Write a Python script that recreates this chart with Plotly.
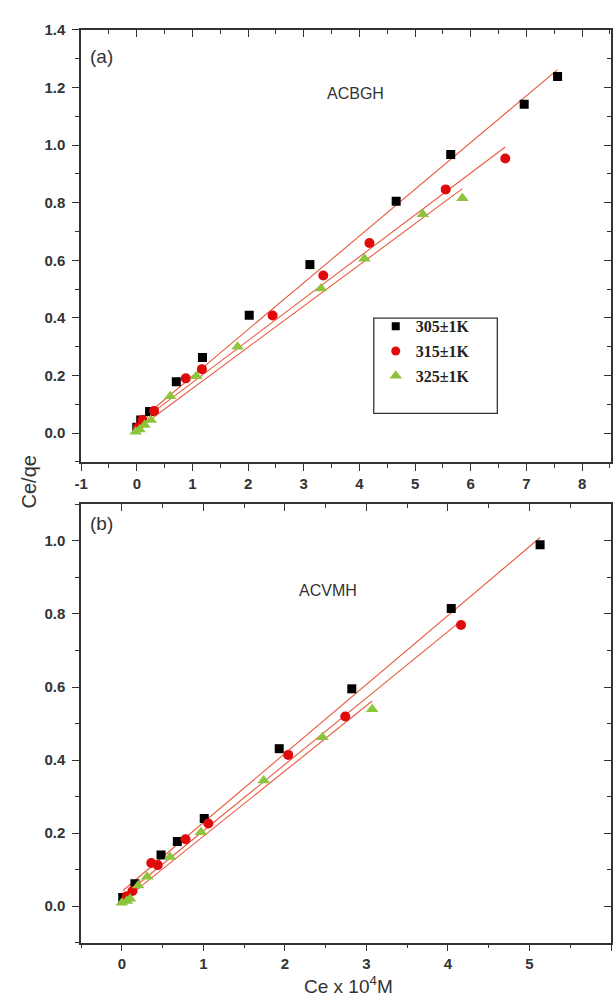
import numpy as np
import plotly.graph_objects as go

# ---------------- data ----------------
series_names = ["305\u00b11K", "315\u00b11K", "325\u00b11K"]

# panel (a): ACBGH
a_x_305 = [0.00, 0.07, 0.23, 0.71, 1.18, 2.02, 3.11, 4.66, 5.64, 6.96, 7.56]
a_y_305 = [0.020, 0.045, 0.075, 0.178, 0.262, 0.409, 0.585, 0.805, 0.967, 1.142, 1.238]
a_x_315 = [0.02, 0.10, 0.31, 0.88, 1.17, 2.44, 3.35, 4.18, 5.55, 6.62]
a_y_315 = [0.020, 0.045, 0.077, 0.190, 0.222, 0.408, 0.547, 0.660, 0.846, 0.953]
a_x_325 = [-0.02, 0.05, 0.14, 0.25, 0.60, 1.07, 1.81, 3.31, 4.09, 5.14, 5.85]
a_y_325 = [0.005, 0.012, 0.028, 0.045, 0.128, 0.197, 0.300, 0.502, 0.605, 0.760, 0.815]
a_fit_intercept = [0.035, 0.030, 0.012]
a_fit_slope = [0.1623, 0.1455, 0.1430]
a_xticks = [-1, 0, 1, 2, 3, 4, 5, 6, 7, 8]
a_xtick_labels = ["-1", "0", "1", "2", "3", "4", "5", "6", "7", "8"]

# panel (b): ACVMH
b_x_305 = [0.01, 0.16, 0.48, 0.68, 1.01, 1.93, 2.82, 4.04, 5.13]
b_y_305 = [0.023, 0.061, 0.140, 0.177, 0.240, 0.431, 0.595, 0.815, 0.990]
b_x_315 = [0.06, 0.13, 0.36, 0.44, 0.78, 1.06, 2.04, 2.74, 4.16]
b_y_315 = [0.027, 0.041, 0.118, 0.112, 0.183, 0.226, 0.414, 0.519, 0.770]
b_x_325 = [0.00, 0.06, 0.10, 0.20, 0.31, 0.59, 0.97, 1.74, 2.46, 3.07]
b_y_325 = [0.009, 0.014, 0.020, 0.056, 0.080, 0.134, 0.202, 0.344, 0.462, 0.539]
b_fit_intercept = [0.040, 0.024, 0.012]
b_fit_slope = [0.189, 0.182, 0.179]

# ---------------- styling ----------------
W, H = 613, 998
marker_styles = [
    dict(symbol="square", color="#000000", size=9),
    dict(symbol="circle", color="#e10a0a", size=10),
    dict(symbol="triangle-up", color="#8cc43c", size=11),
]
legend_marker_sizes = [8, 9, 11]
fit_color = "#e85a3c"
axis_color = "#333333"
tick_font = dict(family="Liberation Sans, Arial, sans-serif", size=15, color="#333333",
                 weight="bold")

fig = go.Figure()


def add_panel(xs, ys, intercepts, slopes, xa, ya):
    for i, (x, y) in enumerate(zip(xs, ys)):
        x = np.asarray(x)
        xl = np.array([x.min(), x.max()])
        fig.add_trace(go.Scatter(
            x=xl, y=intercepts[i] + slopes[i] * xl, mode="lines",
            line=dict(color=fit_color, width=1.1),
            xaxis=xa, yaxis=ya, showlegend=False, hoverinfo="skip"))
    for i, (x, y) in enumerate(zip(xs, ys)):
        fig.add_trace(go.Scatter(
            x=x, y=y, mode="markers", name=series_names[i],
            marker=dict(symbol=marker_styles[i]["symbol"],
                        color=marker_styles[i]["color"],
                        size=marker_styles[i]["size"], line=dict(width=0)),
            xaxis=xa, yaxis=ya, showlegend=False))


add_panel([a_x_305, a_x_315, a_x_325], [a_y_305, a_y_315, a_y_325],
          a_fit_intercept, a_fit_slope, "x", "y")
add_panel([b_x_305, b_x_315, b_x_325], [b_y_305, b_y_315, b_y_325],
          b_fit_intercept, b_fit_slope, "x2", "y2")

# legend-only entries (smaller symbols than the plotted points)
for i in range(3):
    fig.add_trace(go.Scatter(
        x=[None], y=[None], mode="markers", name=series_names[i],
        marker=dict(symbol=marker_styles[i]["symbol"], color=marker_styles[i]["color"],
                    size=legend_marker_sizes[i]),
        legendgroup=f"g{i}", xaxis="x", yaxis="y", showlegend=True))

# empty traces so the mirrored tick axes (top / right) get drawn
fig.add_trace(go.Scatter(x=[None], y=[None], xaxis="x3", yaxis="y3", showlegend=False))
fig.add_trace(go.Scatter(x=[None], y=[None], xaxis="x4", yaxis="y4", showlegend=False))

x_dom = [75 / W, 611 / W]
ya_dom = [1 - 457 / H, 1 - 21 / H]
yb_dom = [1 - 942 / H, 1 - 500 / H]
xa_range = [-1.0, 8.52]
xb_range = [-0.5, 6.0]
ya_range = [-0.1, 1.4]
yb_range = [-0.1, 1.1]


def base_axis(rng, dtick, minor_dtick, ticks, labels, fmt=None):
    d = dict(range=rng, dtick=dtick, tick0=0, ticks=ticks, ticklen=7, tickwidth=1.3,
             tickcolor=axis_color, showline=True, linewidth=1.5, linecolor=axis_color,
             showgrid=False, zeroline=False, showticklabels=labels, tickfont=tick_font,
             minor=dict(dtick=minor_dtick, ticks=ticks, ticklen=4, tickwidth=1.2,
                        tickcolor=axis_color, showgrid=False),
             fixedrange=True)
    if fmt:
        d["tickformat"] = fmt
    return d


xa_axis = base_axis(xa_range, 1, 0.5, "outside", True)
xa_axis.update(tickmode="array", tickvals=a_xticks, ticktext=a_xtick_labels)
ya_axis = base_axis(ya_range, 0.2, 0.1, "outside", True, ".1f")
ya_axis.update(ticklabelstandoff=4)
yb_axis = base_axis(yb_range, 0.2, 0.1, "outside", True, ".1f")
yb_axis.update(ticklabelstandoff=4)

fig.update_layout(
    width=W, height=H, margin=dict(l=0, r=0, t=0, b=0),
    paper_bgcolor="white", plot_bgcolor="white",
    xaxis=dict(domain=x_dom, anchor="y", **xa_axis),
    yaxis=dict(domain=ya_dom, anchor="x", **ya_axis),
    xaxis3=dict(overlaying="x", side="top", anchor="y",
                **base_axis(xa_range, 1, 0.5, "inside", False)),
    yaxis3=dict(overlaying="y", side="right", anchor="x",
                **base_axis(ya_range, 0.2, 0.1, "inside", False)),
    xaxis2=dict(domain=x_dom, anchor="y2", **base_axis(xb_range, 1, 0.5, "outside", True)),
    yaxis2=dict(domain=yb_dom, anchor="x2", **yb_axis),
    xaxis4=dict(overlaying="x2", side="top", anchor="y2",
                **base_axis(xb_range, 1, 0.5, "inside", False)),
    yaxis4=dict(overlaying="y2", side="right", anchor="x2",
                **base_axis(yb_range, 0.2, 0.1, "inside", False)),
    legend=dict(x=373 / W, y=1 - 303 / H, xanchor="left", yanchor="top",
                bgcolor="rgba(0,0,0,0)", borderwidth=0, traceorder="grouped",
                tracegroupgap=1,
                font=dict(family="Liberation Serif, Times New Roman, serif", size=16,
                          color="#222222", weight="bold")),
    showlegend=True,
)

# legend frame
fig.add_shape(type="rect", xref="paper", yref="paper",
              x0=371 / W, x1=496 / W, y0=1 - 408 / H, y1=1 - 312 / H,
              line=dict(color=axis_color, width=1.3), fillcolor="rgba(0,0,0,0)")

label_font = dict(family="Liberation Sans, Arial, sans-serif", color="#333333")
annotations = [
    dict(text="(a)", x=82 / W, y=1 - 48 / H, xanchor="left", yanchor="middle", size=19),
    dict(text="(b)", x=82 / W, y=1 - 519 / H, xanchor="left", yanchor="middle", size=19),
    dict(text="ACBGH", x=353 / W, y=1 - 85 / H, xanchor="center", yanchor="middle", size=16),
    dict(text="ACVMH", x=325 / W, y=1 - 587 / H, xanchor="center", yanchor="middle", size=16),
    dict(text="Ce x 10<sup>4</sup>M", x=345 / W, y=1 - 985 / H, xanchor="center",
         yanchor="middle", size=19),
]
for a in annotations:
    fig.add_annotation(text=a["text"], x=a["x"], y=a["y"], xref="paper", yref="paper",
                       xanchor=a["xanchor"], yanchor=a["yanchor"], showarrow=False,
                       font=dict(size=a["size"], **label_font))
fig.add_annotation(text="Ce/qe", x=22 / W, y=1 - 477 / H, xref="paper", yref="paper",
                   textangle=-90, showarrow=False, xanchor="center", yanchor="middle",
                   font=dict(size=20, **label_font))

fig.write_html("out.html")
